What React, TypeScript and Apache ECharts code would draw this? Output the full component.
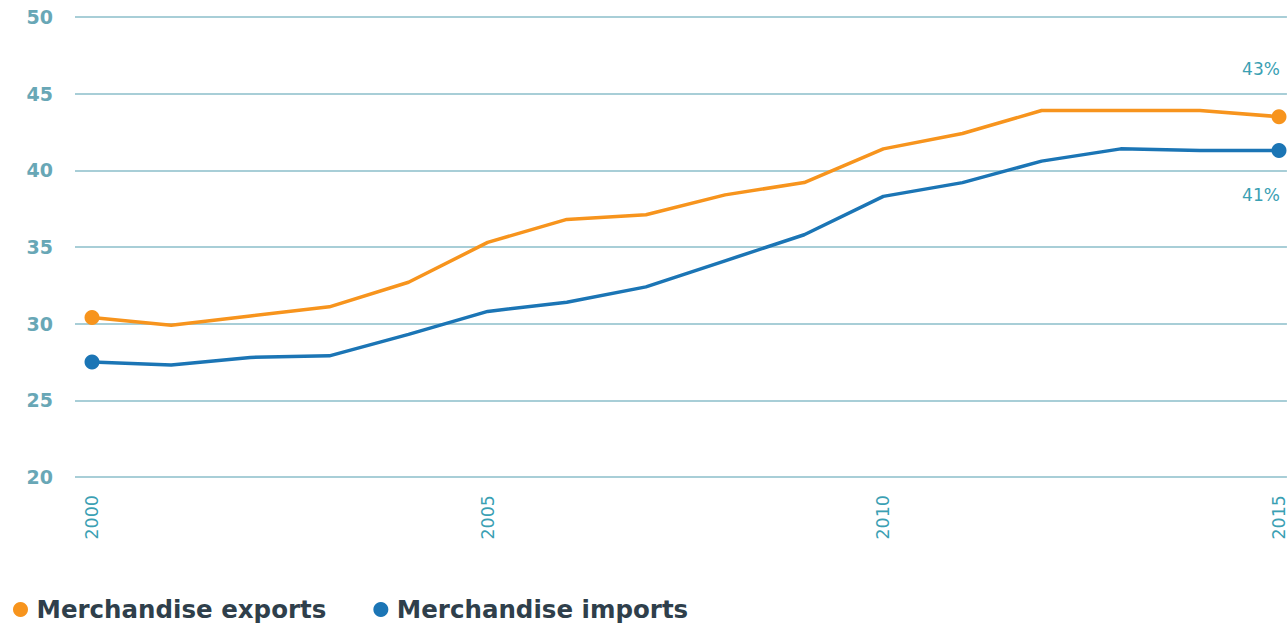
import React, { useEffect, useRef } from "react";
import * as echarts from "echarts";

const years = [2000, 2001, 2002, 2003, 2004, 2005, 2006, 2007, 2008, 2009, 2010, 2011, 2012, 2013, 2014, 2015];
const exportsVals = [30.4, 29.9, 30.5, 31.1, 32.7, 35.3, 36.8, 37.1, 38.4, 39.2, 41.4, 42.4, 43.9, 43.9, 43.9, 43.5];
const importsVals = [27.5, 27.3, 27.8, 27.9, 29.3, 30.8, 31.4, 32.4, 34.1, 35.8, 38.3, 39.2, 40.6, 41.4, 41.3, 41.3];
const xTickLabels = [2000, 2005, 2010, 2015];
const seriesNames = ["Merchandise exports", "Merchandise imports"];
const endLabels = ["43%", "41%"];

const FONT = "'DejaVu Sans', 'Liberation Sans', Arial, sans-serif";
const ORANGE = "#f7941d";
const BLUE = "#1b75b5";
const TEAL = "#3aa0b3";

function buildData(vals: number[], endLabel: string, pos: "top" | "bottom") {
  return vals.map((v, i) => {
    const item: any = { value: [years[i], v] };
    if (i === vals.length - 1) {
      item.label = {
        show: true,
        formatter: endLabel,
        position: pos,
        distance: pos === "top" ? 32 : 29,
        offset: [-18, 0],
        color: TEAL,
        fontSize: 17,
        fontFamily: FONT,
      };
    }
    return item;
  });
}

export default function App() {
  const ref = useRef<HTMLDivElement>(null);
  useEffect(() => {
    const chart = echarts.init(ref.current!, undefined, { renderer: "svg" });
    const last = years.length - 1;
    const sym = (_v: any, p: any) => (p.dataIndex === 0 || p.dataIndex === last ? 15 : 0);
    chart.setOption({
      animation: false,
      grid: { left: 75, right: 0, top: 17, bottom: 151 },
      legend: {
        left: 8,
        bottom: 1,
        icon: "circle",
        itemWidth: 22,
        itemHeight: 15,
        itemGap: 47,
        textStyle: { fontSize: 24.5, fontWeight: "bold", color: "#2f3f4b", fontFamily: FONT },
        data: seriesNames,
      },
      xAxis: {
        type: "value",
        min: 1999.785,
        max: 2015.1,
        splitLine: { show: false },
        axisLine: { show: false },
        axisTick: { show: false },
        axisLabel: {
          customValues: xTickLabels,
          rotate: 90,
          margin: 18,
          color: TEAL,
          fontSize: 17.5,
          fontFamily: FONT,
          formatter: (v: number) => String(v),
        },
      },
      yAxis: {
        type: "value",
        min: 20,
        max: 50,
        interval: 5,
        axisLine: { show: false },
        axisTick: { show: false },
        splitLine: { lineStyle: { color: "#a8ced7", width: 2 } },
        axisLabel: { margin: 22, color: "#68a7b6", fontSize: 19, fontWeight: "bold", fontFamily: FONT },
      },
      series: [
        {
          name: seriesNames[0],
          type: "line",
          data: buildData(exportsVals, endLabels[0], "top"),
          symbol: "circle",
          symbolSize: sym,
          showAllSymbol: true,
          lineStyle: { color: ORANGE, width: 3.5 },
          itemStyle: { color: ORANGE },
          z: 3,
        },
        {
          name: seriesNames[1],
          type: "line",
          data: buildData(importsVals, endLabels[1], "bottom"),
          symbol: "circle",
          symbolSize: sym,
          showAllSymbol: true,
          lineStyle: { color: BLUE, width: 3.5 },
          itemStyle: { color: BLUE },
          z: 4,
        },
      ],
    });
    return () => chart.dispose();
  }, []);
  return <div ref={ref} style={{ width: 1288, height: 628, position: "absolute", left: 0, top: 0 }} />;
}
